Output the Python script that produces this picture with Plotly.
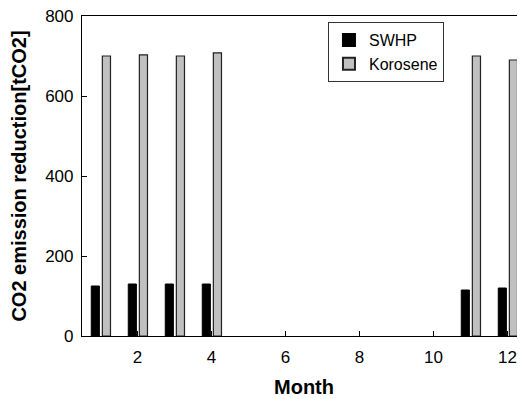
import plotly.graph_objects as go

months = [1, 2, 3, 4, 5, 6, 7, 8, 9, 10, 11, 12]
swhp = [125, 130, 130, 130, None, None, None, None, None, None, 115, 120]
korosene = [700, 703, 700, 708, None, None, None, None, None, None, 700, 690]
x_ticks = [2, 4, 6, 8, 10, 12]
y_ticks = [0, 200, 400, 600, 800]

font = "Liberation Sans, Arial, sans-serif"

fig = go.Figure()
fig.add_trace(go.Bar(
    x=months, y=swhp, name="SWHP",
    width=0.22, offset=-0.25,
    marker=dict(color="#000000", line=dict(color="#000000", width=1)),
))
fig.add_trace(go.Bar(
    x=months, y=korosene, name="Korosene",
    width=0.22, offset=0.05,
    marker=dict(color="#c0c0c0", line=dict(color="#222222", width=1.2)),
))

fig.update_layout(
    width=525, height=399,
    margin=dict(l=74, r=7, t=8, b=71, autoexpand=False),
    paper_bgcolor="white", plot_bgcolor="white",
    font=dict(family=font, size=17, color="#000000"),
    barmode="overlay",
    showlegend=True,
    legend=dict(
        x=0.554, y=0.981, xanchor="left", yanchor="top",
        bgcolor="white", bordercolor="#333333", borderwidth=1,
        font=dict(family=font, size=16, color="#000000"),
        tracegroupgap=0, itemsizing="constant", entrywidth=84,
    ),
    xaxis=dict(
        range=[0.5, 12.5], tickvals=x_ticks, ticktext=[str(v) for v in x_ticks],
        ticks="inside", ticklen=5, tickwidth=1, tickcolor="#000000",
        showline=True, linecolor="#000000", linewidth=1.2, mirror=True,
        showgrid=False, zeroline=False, ticklabelstandoff=5,
        ticklabeloverflow="allow",
        tickfont=dict(family=font, size=17),
        title=dict(text="<b>Month</b>", font=dict(family=font, size=20), standoff=14),
    ),
    yaxis=dict(
        range=[0, 800], tickvals=y_ticks, ticktext=[str(v) for v in y_ticks],
        ticks="inside", ticklen=5, tickwidth=1, tickcolor="#000000",
        showline=True, linecolor="#000000", linewidth=1.2, mirror=False,
        showgrid=False, zeroline=False, ticklabelstandoff=4,
        ticklabeloverflow="allow",
        tickfont=dict(family=font, size=17),
        title=dict(text="<b>CO2 emission reduction[tCO2]</b>", font=dict(family=font, size=20), standoff=23),
    ),
)

fig.write_html("out.html")
